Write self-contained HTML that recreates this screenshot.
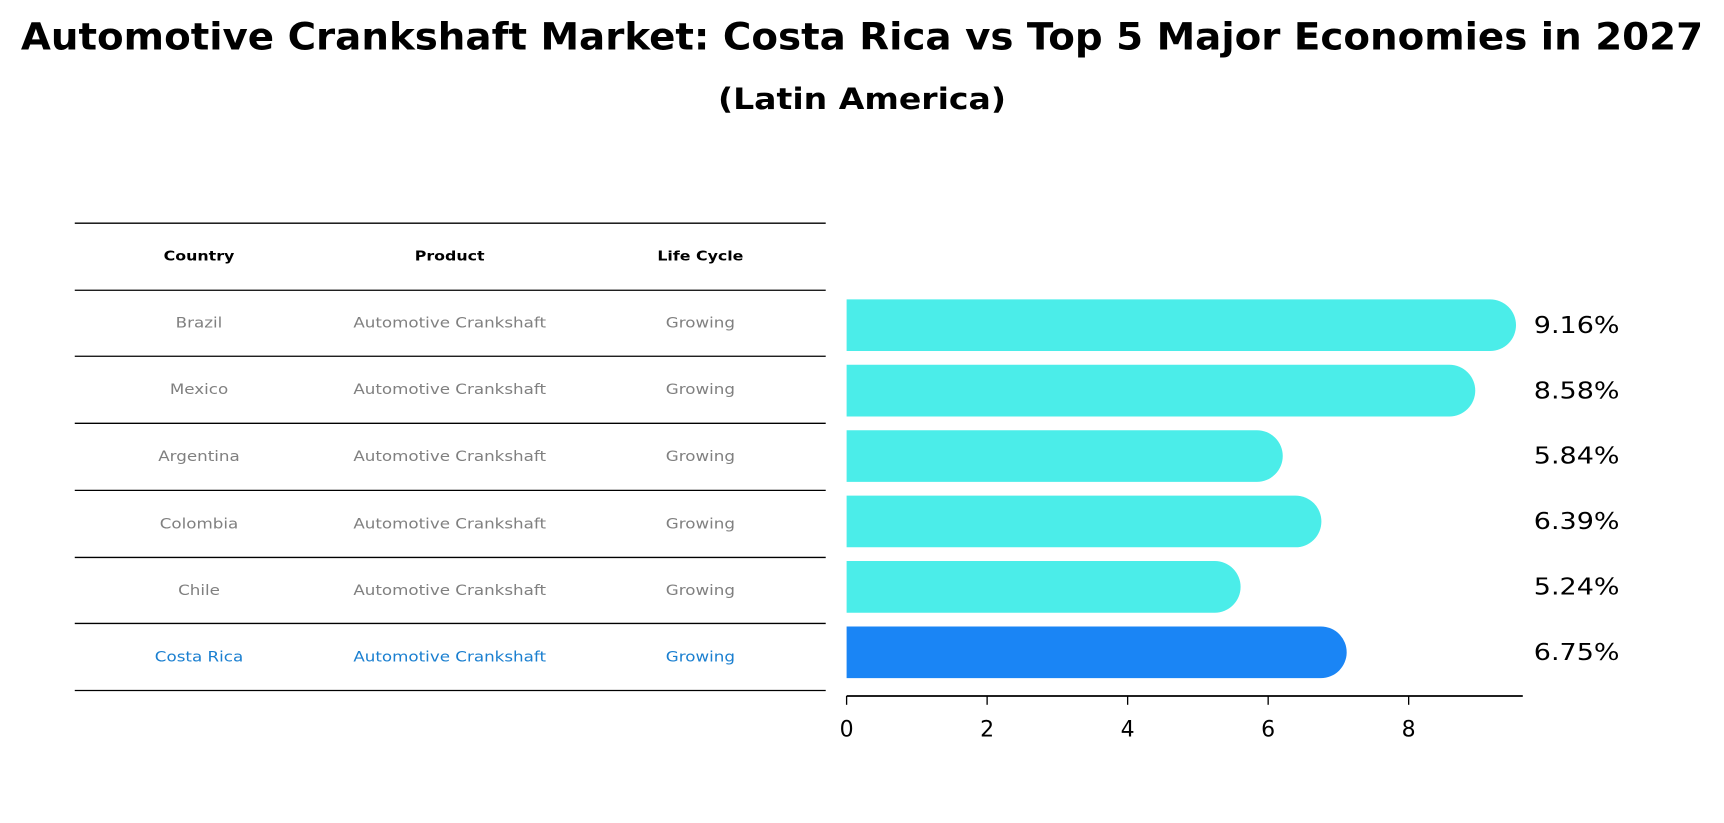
<!DOCTYPE html>
<html><head><meta charset="utf-8"><style>
html,body{margin:0;padding:0;background:#fff;}
svg{display:block;font-family:"DejaVu Sans","Liberation Sans",sans-serif;}
</style></head><body>
<svg id="chart" width="1724" height="823" viewBox="0 0 1568 748.5" preserveAspectRatio="none" xmlns="http://www.w3.org/2000/svg">
<text x="784" y="45" text-anchor="middle" font-size="34" font-weight="bold" textLength="1530" lengthAdjust="spacingAndGlyphs">Automotive Crankshaft Market: Costa Rica vs Top 5 Major Economies in 2027</text>
<text x="784" y="99" text-anchor="middle" font-size="27" font-weight="bold" textLength="262" lengthAdjust="spacingAndGlyphs">(Latin America)</text>
<g id="table"></g>
<g id="bars"></g>
</svg>
<script>
const countries = ["Brazil","Mexico","Argentina","Colombia","Chile","Costa Rica"];
const products = ["Automotive Crankshaft","Automotive Crankshaft","Automotive Crankshaft","Automotive Crankshaft","Automotive Crankshaft","Automotive Crankshaft"];
const lifeCycles = ["Growing","Growing","Growing","Growing","Growing","Growing"];
const values = [9.16,8.58,5.84,6.39,5.24,6.75];
const valueLabels = ["9.16%","8.58%","5.84%","6.39%","5.24%","6.75%"];
const ticks = [0,2,4,6,8];

const NS="http://www.w3.org/2000/svg";
function mk(tag, attrs, parent, text){const e=document.createElementNS(NS,tag);for(const k in attrs)e.setAttribute(k,attrs[k]);if(text!==undefined)e.textContent=text;parent.appendChild(e);return e;}
function stretch(t,f){const w=t.getComputedTextLength();t.setAttribute('textLength',w*f);t.setAttribute('lengthAdjust','spacingAndGlyphs');}
const table=document.getElementById('table');
const bars=document.getElementById('bars');
const lineYs=[203,264,324,385,446,507,567,628];
lineYs.forEach(y=>{const l=mk('line',{x1:68,x2:751,y1:y,y2:y,stroke:'#000','stroke-width':1.2},table);

});
const colX=[181,409,637];
["Country","Product","Life Cycle"].forEach((h,i)=>{const t=mk('text',{x:colX[i],y:237,'text-anchor':'middle','font-size':12,'font-weight':'bold'},table,h);


stretch(t,1.2);});
countries.forEach((c,r)=>{
  const y=(lineYs[r+1]+lineYs[r+2])/2+4;
  const col=(c==="Costa Rica")?'#1a7fd0':'#808080';
  [c,products[r],lifeCycles[r]].forEach((v,i)=>{const t=mk('text',{x:colX[i],y:y,'text-anchor':'middle','font-size':13,fill:col},table,v);
  
  
  stretch(t,1.17);});
});
const x0=770, ppu=63.9;
const xs=v=>x0+v*ppu;
const bandTop=266, band=59.5, bh=47;
values.forEach((v,i)=>{
  const cy=bandTop+band*i+band/2;
  const xe=xs(v), r=bh/2;
  const col=(countries[i]==="Costa Rica")?'#1a85f5':'#4bede9';
  const p=mk('path',{d:`M${x0},${cy-r} L${xe},${cy-r} A${r},${r} 0 0 1 ${xe},${cy+r} L${x0},${cy+r} Z`,fill:col},bars);
  
  
  const t=mk('text',{x:1395,y:cy+7,'font-size':21},bars,valueLabels[i]);
  
  
  stretch(t,1.17);
});
const ax=mk('line',{x1:x0,x2:1385,y1:633,y2:633,stroke:'#000','stroke-width':1.5},bars);


ticks.forEach(v=>{
  const tk=mk('line',{x1:xs(v),x2:xs(v),y1:633,y2:641,stroke:'#000','stroke-width':1.2},bars);
  
  
  const t=mk('text',{x:xs(v),y:670,'text-anchor':'middle','font-size':20},bars,String(v));
  
  
});
</script>
</body></html>
